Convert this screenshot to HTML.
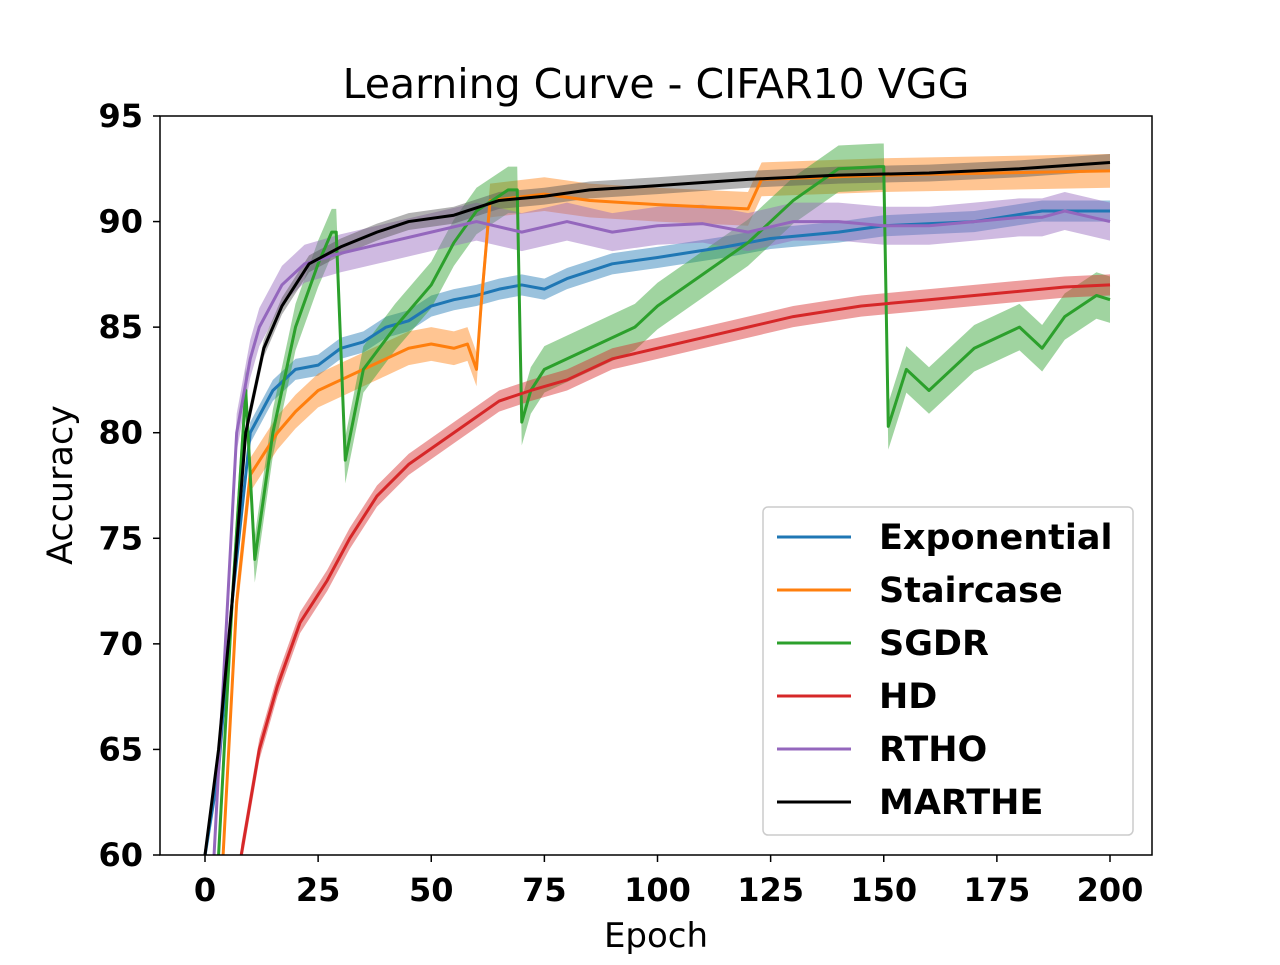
<!DOCTYPE html>
<html><head><meta charset="utf-8"><style>
body{margin:0;background:#fff;}
svg text{font-family:"DejaVu Sans","Liberation Sans",sans-serif;}
</style></head><body>
<svg width="1280" height="960" id="chart">
<defs><clipPath id="clip"><rect x="160" y="116" width="992" height="739"/></clipPath></defs>
<text x="656" y="98" text-anchor="middle" font-size="41">Learning Curve - CIFAR10 VGG</text>
<g id="plot" clip-path="url(#clip)"></g>
<rect x="160" y="116" width="992" height="739" fill="none" stroke="#000" stroke-width="1.5"/>
<g id="ticks"></g>
<text x="656" y="947" text-anchor="middle" font-size="34">Epoch</text>
<text transform="translate(72,485) rotate(-90)" text-anchor="middle" font-size="35">Accuracy</text>
<g id="legend"></g>
</svg>
<script>
const xTicks=[0,25,50,75,100,125,150,175,200];
const yTicks=[60,65,70,75,80,85,90,95];
const names=["Exponential","Staircase","SGDR","HD","RTHO","MARTHE"];
const colors=["#1f77b4","#ff7f0e","#2ca02c","#d62728","#9467bd","#000000"];
const bandColors=["#1f77b4","#ff7f0e","#2ca02c","#d62728","#9467bd","#555555"];
const spreads=[0.5,0.8,1.1,0.5,0.9,0.4];
const expX=[0,3,6,10,15,20,25,30,35,40,45,50,55,60,65,70,75,80,90,100,115,125,140,150,170,185,200];
const expY=[60,64,72,80,82,83,83.2,84,84.3,85,85.3,86,86.3,86.5,86.8,87,86.8,87.3,88,88.3,88.8,89.2,89.5,89.8,90,90.5,90.5];
const staX=[4,7,10,13,16,20,25,30,35,40,45,50,55,58,60,61,63,75,85,100,120,123,150,175,200];
const staY=[60,72,78,79,80,81,82,82.5,83,83.5,84,84.2,84,84.2,83,86,91,91.3,91,90.8,90.6,92,92.2,92.3,92.4];
const sgdX=[3,6,9,11,13,15,20,25,28,29,31,35,42,50,55,60,67,69,70,72,75,85,95,100,110,120,125,130,140,149,150,151,155,160,170,180,185,190,197,200];
const sgdY=[60,72,82,74,77,80,85,88,89.5,89.5,78.7,83,85,87,89,90.5,91.5,91.5,80.5,82,83,84,85,86,87.5,89,90,91,92.5,92.6,92.6,80.3,83,82,84,85,84,85.5,86.5,86.3];
const hdX=[8,12,16,21,27,32,38,45,55,65,72,80,90,100,110,120,130,145,160,175,190,200];
const hdY=[60,65,68,71,73,75,77,78.5,80,81.5,82,82.5,83.5,84,84.5,85,85.5,86,86.3,86.6,86.9,87];
const rthX=[2,5,7,10,12,17,22,30,40,50,60,70,80,90,100,110,120,130,140,150,160,170,180,185,190,200];
const rthY=[60,72,80,83.5,85,87,88,88.5,89,89.5,90,89.5,90,89.5,89.8,89.9,89.5,90,90,89.8,89.8,90,90.2,90.2,90.5,90];
const marX=[0,3,6,9,13,17,23,30,38,45,55,65,75,85,100,120,140,160,180,200];
const marY=[60,65,72,80,84,86,88,88.8,89.5,90,90.3,91,91.2,91.5,91.7,92,92.2,92.3,92.5,92.8];
const seriesX=[expX,staX,sgdX,hdX,rthX,marX];
const seriesY=[expY,staY,sgdY,hdY,rthY,marY];
const xs=e=>205+e*(1110-205)/200;
const ys=v=>855-(v-60)*(855-116)/35;
const NS="http://www.w3.org/2000/svg";
function mk(tag,attrs){const el=document.createElementNS(NS,tag);for(const k in attrs)el.setAttribute(k,attrs[k]);return el;}
const plot=document.getElementById('plot');
for(let i=0;i<names.length;i++){
  const X=seriesX[i],Y=seriesY[i],s=spreads[i];
  let up=X.map((x,j)=>xs(x)+','+ys(Y[j]+s)).join(' ');
  let dn=X.map((x,j)=>xs(x)+','+ys(Y[j]-s)).reverse().join(' ');
  const band=mk('polygon',{points:up+' '+dn,fill:bandColors[i],'fill-opacity':0.45});
  
  
  plot.appendChild(band);
}
for(let i=0;i<names.length;i++){
  const X=seriesX[i],Y=seriesY[i];
  const line=mk('polyline',{points:X.map((x,j)=>xs(x)+','+ys(Y[j])).join(' '),fill:'none',stroke:colors[i],'stroke-width':3,'stroke-linejoin':'round'});
  
  
  plot.appendChild(line);
}
const tg=document.getElementById('ticks');
xTicks.forEach(t=>{
  const l=mk('line',{x1:xs(t),x2:xs(t),y1:855,y2:862,stroke:'#000','stroke-width':1.5});
  
  
  tg.appendChild(l);
  const tx=mk('text',{x:xs(t),y:901,'text-anchor':'middle','font-size':32,'font-weight':'bold'});
  tx.textContent=t;
  
  
  tg.appendChild(tx);
});
yTicks.forEach(t=>{
  const l=mk('line',{x1:153,x2:160,y1:ys(t),y2:ys(t),stroke:'#000','stroke-width':1.5});
  
  
  tg.appendChild(l);
  const tx=mk('text',{x:143,y:ys(t)+11,'text-anchor':'end','font-size':32,'font-weight':'bold'});
  tx.textContent=t;
  
  
  tg.appendChild(tx);
});
const lg=document.getElementById('legend');
const box=mk('rect',{x:763,y:507,width:370,height:328,rx:5,fill:'#fff','fill-opacity':0.8,stroke:'#ccc','stroke-width':1.5});


lg.appendChild(box);
names.forEach((n,i)=>{
  const y=537+i*53;
  const l=mk('line',{x1:777,x2:851,y1:y,y2:y,stroke:colors[i],'stroke-width':3});
  
  
  lg.appendChild(l);
  const t=mk('text',{x:879,y:y+12,'font-size':35,'font-weight':'bold'});
  t.textContent=n;
  
  
  lg.appendChild(t);
});
</script>
</body></html>
